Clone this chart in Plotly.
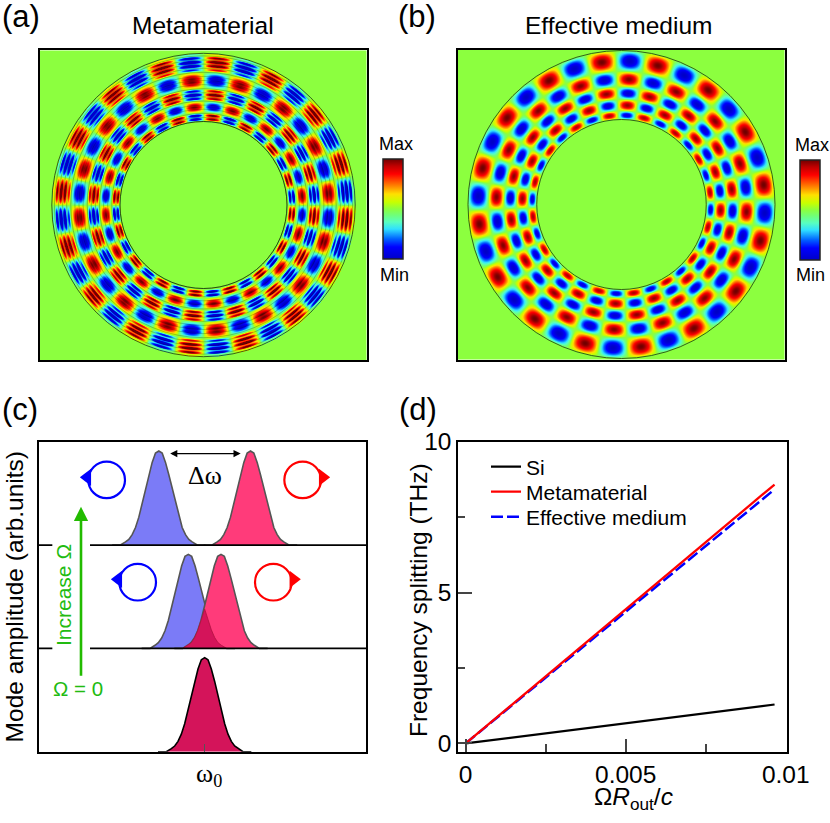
import numpy as np
import plotly.graph_objects as go

W, H = 830, 823
FONT = 'Liberation Sans'
SERIF = 'Liberation Serif'

# field maps: radial nodes (px from centre, outer to inner) and lobe strength per ring
nodes_a = [151.7, 133, 117, 104, 93, 83.5]
nodes_b = [154, 133, 117.5, 105, 93.5, 85]
ring_amp_a = [1.0, 0.98, 0.95, 0.92, 0.88]
ring_amp_b = [1.0, 0.96, 0.94, 0.92, 0.88]
lobe_pairs = 16
lobe_angle_b = 86.6
layer_period_a = 4.1

colorbar_pos = [0, 0.12, 0.2, 0.3, 0.37, 0.44, 0.5, 0.57, 0.65, 0.72, 0.85, 0.93, 1]
colorbar_col = ['#0000C8', '#0000FF', '#0060FF', '#30E0FF', '#58FFC0', '#70FF78', '#8CFF3F', '#C8FF00', '#FFE000',
                '#FF9000', '#FF0000', '#C00000', '#700000']

# panel c: one peak outline, in the same units as the x axis
peak_offset = [-140, -115, -100, -90, -80, -70, -60, -50, -40, -30, -20, -10, 0,
               10, 20, 30, 40, 50, 60, 70, 80, 90, 100, 115, 140]
peak_height = [0, 0, 0.03, 0.055, 0.1, 0.17, 0.27, 0.4, 0.55, 0.68, 0.8, 0.89, 0.91,
               0.89, 0.8, 0.68, 0.55, 0.4, 0.27, 0.17, 0.1, 0.055, 0.03, 0, 0]
split_top = 137.5
split_mid = 49
overlap_x = [-66, -50, -40, -30, -20, -10, 0, 10, 20, 30, 40, 50, 66]
overlap_y = [0, 0.03, 0.055, 0.105, 0.18, 0.28, 0.38, 0.28, 0.18, 0.105, 0.055, 0.03, 0]

# panel d
rotation = [0, 0.0025, 0.005, 0.0075, 0.00965]
si_split = [0, 0.335, 0.67, 1.0, 1.29]
meta_split = [0, 2.22, 4.45, 6.67, 8.58]
eff_split = [0, 2.18, 4.36, 6.55, 8.42]
x_ticks = [0, 0.005, 0.01]
x_tick_text = ['0', '0.005', '0.01']
y_ticks = [0, 5, 10]


def fx(px):
    return px / W


def fy(py):
    return 1 - py / H


def radial_part(r, nodes, amps):
    # one half wave per ring, the sign alternates by itself
    rad = np.interp(r, nodes[::-1], np.arange(len(nodes))[::-1])
    ring = np.clip(rad.astype(int), 0, len(amps) - 1)
    return np.sin(np.pi * rad) * np.array(amps)[ring]


def widen(z, power):
    # lobes in the picture are blockier than a plain product of sines
    return np.sign(z) * np.abs(z) ** power


x_a = np.arange(-163.5, 163.5, 1.0)
y_a = np.arange(-155, 155, 1.0)
x_b = np.arange(-164, 164, 1.0)
y_b = np.arange(-155, 155, 1.0)

xx, yy = np.meshgrid(x_a, y_a)
r_a = np.hypot(xx, yy)
t_a = np.arctan2(yy, xx)
# thin layers of the metamaterial show as a fine ripple on top of the lobes
ripple = np.cos(2 * np.pi * r_a / layer_period_a)
z_a = widen(-np.sin(lobe_pairs * t_a) * radial_part(r_a, nodes_a, ring_amp_a), 0.75) * (1 + 0.24 * ripple)
z_a = z_a - np.sin(lobe_pairs * t_a) * 0.16 * ripple
z_a[(r_a > nodes_a[0]) | (r_a < nodes_a[-1])] = 0

xx, yy = np.meshgrid(x_b, y_b)
r_b = np.hypot(xx, yy)
t_b = np.arctan2(yy, xx)
z_b = widen(-np.cos(lobe_pairs * (t_b - np.radians(lobe_angle_b))) * radial_part(r_b, nodes_b, ring_amp_b), 0.88)
z_b[(r_b > nodes_b[0]) | (r_b < nodes_b[-1])] = 0

fig = go.Figure()
scale = [[p, c] for p, c in zip(colorbar_pos, colorbar_col)]
fig.add_trace(go.Heatmap(x=x_a, y=y_a, z=z_a.round(3), zmin=-1, zmax=1, colorscale=scale, xaxis='x', yaxis='y',
                         hoverinfo='skip',
                         colorbar=dict(x=fx(383), xanchor='left', xpad=0, ypad=0, y=fy(159), yanchor='top',
                                       len=100, lenmode='pixels', thickness=20, thicknessmode='pixels',
                                       showticklabels=False, ticks='', outlinecolor='#222222', outlinewidth=1.5)))
fig.add_trace(go.Heatmap(x=x_b, y=y_b, z=z_b.round(3), zmin=-1, zmax=1, colorscale=scale, xaxis='x2', yaxis='y2',
                         hoverinfo='skip',
                         colorbar=dict(x=fx(800), xanchor='left', xpad=0, ypad=0, y=fy(159.5), yanchor='top',
                                       len=100, lenmode='pixels', thickness=20, thicknessmode='pixels',
                                       showticklabels=False, ticks='', outlinecolor='#222222', outlinewidth=1.5)))

# panel c peaks
offs = np.array(peak_offset)
hgt = np.array(peak_height)
GREY = '#555555'
for cen, base, col in [(-split_top, 2, '#7B7BF7'), (split_top, 2, '#FF3B7A'),
                       (-split_mid, 1, '#7B7BF7'), (split_mid, 1, '#FF3B7A')]:
    fig.add_trace(go.Scatter(x=offs + cen, y=hgt + base, mode='lines', fill='toself', fillcolor=col,
                             line=dict(color=GREY, width=1.6), xaxis='x3', yaxis='y3', showlegend=False,
                             hoverinfo='skip'))
fig.add_trace(go.Scatter(x=overlap_x, y=np.array(overlap_y) + 1, mode='lines', fill='toself', fillcolor='#D4145A',
                         line=dict(color='#B01040', width=0.8), xaxis='x3', yaxis='y3', showlegend=False,
                         hoverinfo='skip'))
fig.add_trace(go.Scatter(x=offs, y=hgt, mode='lines', fill='toself', fillcolor='#D4145A',
                         line=dict(color='black', width=1.6), xaxis='x3', yaxis='y3', showlegend=False,
                         hoverinfo='skip'))
# arrow heads on the rotating circles
for xs, ys, sym, col in [([-352], [2.655], 'triangle-left', '#0000FF'), ([354], [2.655], 'triangle-right', '#FF0000'),
                         ([-259], [1.668], 'triangle-left', '#0000FF'), ([266], [1.668], 'triangle-right', '#FF0000')]:
    fig.add_trace(go.Scatter(x=xs, y=ys, mode='markers', marker=dict(symbol=sym, size=15, color=col),
                             xaxis='x3', yaxis='y3', showlegend=False, hoverinfo='skip'))

# panel d, one legend per line so the rows sit as tight as in the picture
fig.add_trace(go.Scatter(x=rotation, y=si_split, mode='lines', name='Si', line=dict(color='black', width=2.2),
                         xaxis='x4', yaxis='y4', legend='legend'))
fig.add_trace(go.Scatter(x=rotation, y=eff_split, mode='lines', name='Effective medium',
                         line=dict(color='#0000FF', width=2.5, dash='12px,4px'), xaxis='x4', yaxis='y4',
                         legend='legend3'))
fig.add_trace(go.Scatter(x=rotation, y=meta_split, mode='lines', name='Metamaterial',
                         line=dict(color='#FF0000', width=2.3), xaxis='x4', yaxis='y4', legend='legend2'))

shapes = []
for xr, yr, nodes in [('x', 'y', nodes_a), ('x2', 'y2', nodes_b)]:
    for rad in (nodes[0], nodes[-1]):
        shapes.append(dict(type='circle', xref=xr, yref=yr, x0=-rad, x1=rad, y0=-rad, y1=rad,
                           line=dict(color='#1a3a10', width=0.8)))
# layer boundaries in the metamaterial
for rad in np.arange(nodes_a[-1], nodes_a[0], layer_period_a):
    shapes.append(dict(type='circle', xref='x', yref='y', x0=-rad, x1=rad, y0=-rad, y1=rad,
                       line=dict(color='rgba(0,0,0,0.38)', width=0.6)))
for base in (1, 2):
    for x0, x1 in [(-497, -457), (-344, 484)]:
        shapes.append(dict(type='line', xref='x3', yref='y3', x0=x0, x1=x1, y0=base, y1=base,
                           line=dict(color='black', width=1.8)))
for cx, cy, col in [(-294, 2.63, '#0000FF'), (294, 2.63, '#FF0000'), (-201, 1.64, '#0000FF'), (206, 1.64, '#FF0000')]:
    shapes.append(dict(type='circle', xref='x3', yref='y3', x0=cx - 55, x1=cx + 55, y0=cy - 0.177, y1=cy + 0.177,
                       line=dict(color=col, width=2.2)))


def label(px, py, text, size, color='black', family=FONT, angle=0):
    return dict(xref='paper', yref='paper', x=fx(px), y=fy(py), text=text, showarrow=False, textangle=angle,
                font=dict(family=family, size=size, color=color), xanchor='center', yanchor='middle')


GREEN = '#22BB11'
annotations = [
    label(21, 16, '(a)', 31), label(417, 16, '(b)', 31), label(20, 409, '(c)', 31), label(418, 409, '(d)', 31),
    label(203, 26, 'Metamaterial', 24.5), label(618, 26, 'Effective medium', 24.5),
    label(396, 144, 'Max', 18), label(394, 275, 'Min', 18),
    label(812, 145, 'Max', 18), label(810, 275, 'Min', 18),
    label(205, 475, 'Δω', 26, family=SERIF),
    label(209, 775, 'ω<sub>0</sub>', 26, family=SERIF),
    label(63, 595, 'Increase Ω', 21, color=GREEN, angle=-90),
    label(78, 688, 'Ω = 0', 20.5, color=GREEN),
    label(633, 798, 'Ω<i>R</i><sub>out</sub>/<i>c</i>', 24.5),
    label(418, 600, 'Frequency splitting (THz)', 24.5, angle=-90),
    dict(xref='x3', yref='y3', axref='x3', ayref='y3', x=-371, y=2.371, ax=-371, ay=0.721, text='', showarrow=True,
         arrowhead=2, arrowsize=1.1, arrowwidth=2.6, arrowcolor='#22BB00'),
    dict(xref='x3', yref='y3', axref='x3', ayref='y3', x=108, y=2.885, ax=-108, ay=2.885, text='', showarrow=True,
         arrowhead=2, arrowside='end+start', arrowsize=1.1, arrowwidth=1.3, arrowcolor='black'),
]


def frame(anchor, **kw):
    base = dict(showline=True, mirror=True, linecolor='black', linewidth=2, showgrid=False, zeroline=False,
                anchor=anchor, ticks='', showticklabels=False)
    base.update(kw)
    return base


def row(py):
    return dict(x=fx(486), y=fy(py), xanchor='left', yanchor='middle', bgcolor='rgba(0,0,0,0)',
                font=dict(size=21), itemwidth=30)


fig.update_layout(
    width=W, height=H, margin=dict(l=0, r=0, t=0, b=0, autoexpand=False), paper_bgcolor='white', plot_bgcolor='white',
    font=dict(family=FONT, color='black', size=24.5), shapes=shapes, annotations=annotations,
    xaxis=frame('y', domain=[fx(40), fx(367)], range=[-163.5, 163.5]),
    yaxis=frame('x', domain=[fy(360), fy(50)], range=[-155, 155]),
    xaxis2=frame('y2', domain=[fx(458), fx(785)], range=[-164, 164]),
    yaxis2=frame('x2', domain=[fy(359.5), fy(49.5)], range=[-155, 155]),
    xaxis3=frame('y3', domain=[fx(39), fx(366)], range=[-497, 484], tickvals=[0], ticks='inside', ticklen=8,
                 tickcolor='#555555', tickwidth=1),
    yaxis3=frame('x3', domain=[fy(751.7), fy(441.7)], range=[0, 3],
                 title=dict(text='Mode amplitude (arb.units)', standoff=6, font=dict(size=24.5))),
    xaxis4=frame('y4', domain=[fx(458.3), fx(786.7)], range=[-0.00023, 0.01003], tickvals=x_ticks,
                 ticktext=x_tick_text, showticklabels=True, ticks='inside', ticklen=13, tickwidth=1.5,
                 minor=dict(tickvals=[0.0025, 0.0075], ticks='inside', ticklen=8, tickwidth=1.5),
                 tickfont=dict(size=24.5)),
    yaxis4=frame('x4', domain=[fy(751.7), fy(441.7)], range=[-0.275, 10], tickvals=y_ticks,
                 showticklabels=True, ticks='inside', ticklen=14, tickwidth=1.5,
                 minor=dict(tickvals=[2.5, 7.5], ticks='inside', ticklen=7, tickwidth=1.5),
                 tickfont=dict(size=24.5)),
    legend=row(467), legend2=row(492), legend3=row(517),
)

fig.write_html("out.html", config=dict(displayModeBar=False), post_script="document.body.style.margin='0';")
